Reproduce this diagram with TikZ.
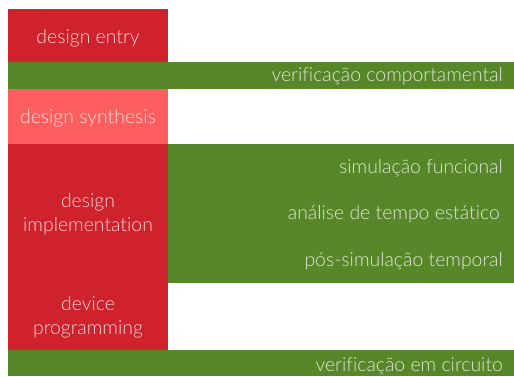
\documentclass[tikz,border=0pt]{standalone}
\usepackage{fontspec}
\IfFontExistsTF{Lato Light}{\setmainfont{Lato Light}[Ligatures={NoCommon}]}{\setmainfont{Liberation Sans}}
\definecolor{stagered}{HTML}{CF222C}
\definecolor{stagesalmon}{HTML}{FF5E5E}
\definecolor{verifgreen}{HTML}{58872A}
\begin{document}
\begin{tikzpicture}[x=1pt,y=-1pt,
  stage/.style={fill=stagered},
  band/.style={fill=verifgreen},
  lbl/.style={font=\fontsize{19.4}{24}\selectfont, text=white, text opacity=0.8, inner sep=0pt, align=center},
  rlbl/.style={lbl, anchor=east}]
\useasboundingbox (0,0) rectangle (514,376);
\fill[white] (0,0) rectangle (514,376);
% design stages (left column)
\fill[stage] (8,9) rectangle (168,62);
\fill[stagesalmon] (8,89) rectangle (168,144);
\fill[stage] (8,144) rectangle (168,350);
% verification bands
\fill[band] (8,62) rectangle (514,89);
\fill[band] (168,144) rectangle (514,283);
\fill[band] (8,350) rectangle (514,376);
% stage labels
\node[lbl] (entry) at (88,38.5) {design entry};
\node[lbl] (synth) at (88,118.5) {design synthesis};
\node[lbl] (impl) at (88,214.5) {design\\implementation};
\node[lbl] (prog) at (88,317.5) {device\\programming};
% verification labels
\node[rlbl] (vcomp) at (503,76.5) {verificação comportamental};
\node[rlbl] (vfunc) at (503,168.5) {simulação funcional};
\node[rlbl] (vsta) at (500,214.5) {análise de tempo estático};
\node[rlbl] (vpost) at (503,261.5) {pós-simulação temporal};
\node[rlbl] (vcirc) at (503,366.5) {verificação em circuito};
\end{tikzpicture}
\end{document}
